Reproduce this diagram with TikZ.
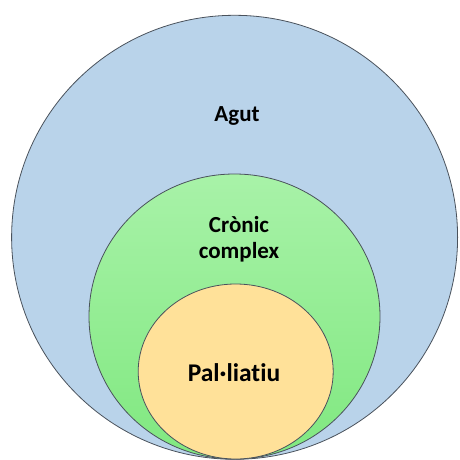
\documentclass[tikz,border=0pt]{standalone}
\usepackage{fontspec}
\setmainfont[Ligatures=NoCommon]{Carlito}
\usetikzlibrary{shapes.geometric}
\definecolor{acutefill}{HTML}{B9D3EA}
\definecolor{chronictop}{HTML}{A8F2A8}
\definecolor{chronicbot}{HTML}{80E880}
\definecolor{palfill}{HTML}{FFE199}
\definecolor{rimgray}{HTML}{4A525C}
\tikzset{
  zone/.style={ellipse, draw=rimgray, line width=0.8pt, inner sep=0pt},
  zonelabel/.style={text=black, align=center, inner sep=0pt}
}
\begin{document}
\begin{tikzpicture}[x=1pt,y=-1pt]
  \useasboundingbox (0,0) rectangle (459,460);
  % nested care levels
  \node[zone, fill=acutefill, minimum width=446pt, minimum height=444pt] (acute) at (234.6,237.3) {};
  \node[zone, top color=chronictop, bottom color=chronicbot, minimum width=291pt, minimum height=285pt] (chronic) at (234.5,316.5) {};
  \node[zone, fill=palfill, minimum width=195pt, minimum height=175pt] (pal) at (235.7,371.5) {};
  % labels
  \node[zonelabel, font=\fontsize{23}{25}\selectfont\bfseries] (acutetxt) at (237,116) {Agut};
  \node[zonelabel, font=\fontsize{23}{25.5}\selectfont\bfseries] (chronictxt) at (239,239) {Crònic\\complex};
  \node[zonelabel, font=\fontsize{25.5}{28}\selectfont\bfseries] (paltxt) at (234,373) {Pal·liatiu};
\end{tikzpicture}
\end{document}
